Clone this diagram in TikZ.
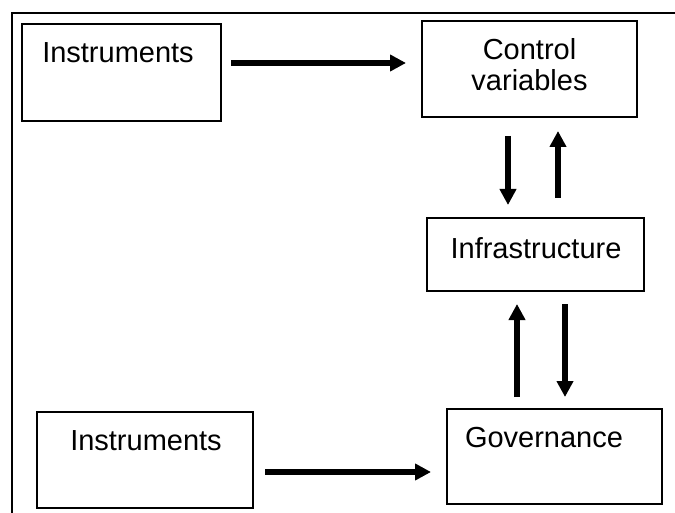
\documentclass[tikz,border=0pt]{standalone}
\usepackage{tikz}
\usepackage{xcolor}
\usepackage{fontspec}
\setmainfont{Liberation Sans}
\usetikzlibrary{arrows.meta}
\usetikzlibrary{calc}
\tikzset{
  box/.style={draw, line width=2pt, inner sep=0pt},
  txt/.style={font=\fontsize{29}{31}\selectfont, inner sep=0pt, align=center},
  arr/.style={line width=5.5pt, -{Triangle[length=16pt,width=16pt]}},
  frame/.style={line width=2.5pt}
}

\begin{document}
\begin{tikzpicture}[x=1pt,y=-1pt]
  \useasboundingbox (0,0) rectangle (675,513);
  \draw[frame] (676,13) -- (12,13) -- (12,514);
  \node[box, minimum width=199pt, minimum height=97pt] (instr1) at (121.5,72.5) {};
  \node[box, minimum width=215pt, minimum height=96pt] (ctrl) at (529.5,69) {};
  \node[box, minimum width=217pt, minimum height=73pt] (infra) at (535.5,254.5) {};
  \node[box, minimum width=215pt, minimum height=95pt] (gov) at (554.5,456.5) {};
  \node[box, minimum width=216pt, minimum height=96pt] (instr2) at (145,460) {};
  \node[txt] (l1) at (118,53) {Instruments};
  \node[txt] (l2) at (529.5,64.5) {Control\\variables};
  \node[txt] (l3) at (536,248) {Infrastructure};
  \node[txt] (l4) at (544,438) {Governance};
  \node[txt] (l5) at (146,441) {Instruments};
  \draw[arr] ($(instr1.east)+(9,-9.5)$) -- ($(ctrl.west)+(-15,-6)$);
  \draw[arr] ($(instr2.east)+(11,12)$) -- ($(gov.west)+(-15,15.5)$);
  \draw[arr] ($(ctrl.south)+(-21.5,18)$) -- ($(infra.north)+(-27.5,-12)$);
  \draw[arr] ($(infra.north)+(22.5,-19)$) -- ($(ctrl.south)+(28.5,13)$);
  \draw[arr] ($(gov.north)+(-37.5,-11)$) -- ($(infra.south)+(-18.5,12)$);
  \draw[arr] ($(infra.south)+(29.5,12)$) -- ($(gov.north)+(10.5,-11)$);
\end{tikzpicture}
\end{document}
